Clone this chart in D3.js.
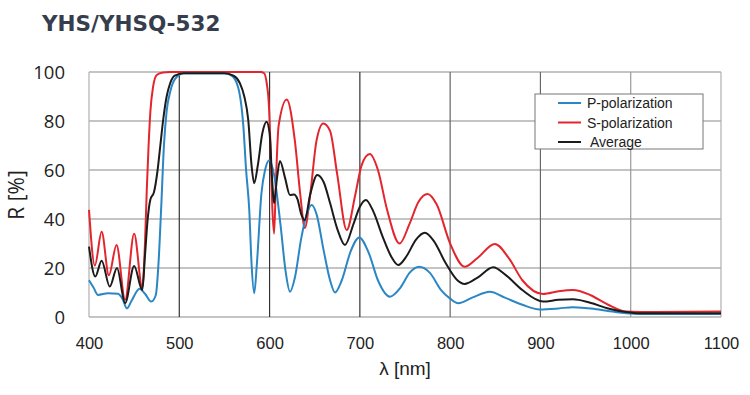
<!DOCTYPE html>
<html>
<head>
  <meta charset="utf-8">
  <script src="https://cdn.jsdelivr.net/npm/d3@7"></script>
  <style>
    body { margin: 0; background: #fff; }
  </style>
</head>
<body>
  <div id="chart"></div>
  <script>
    // wavelength (nm) / reflectance (%)
    const pWl = [400, 405, 410, 421, 432, 437, 442, 447, 456, 462, 469, 474, 477, 480, 483, 486, 490, 495, 505, 550, 558, 565, 571, 574, 577.5, 580, 583, 586, 591, 595, 599.7, 605, 612, 618, 622.6, 628, 635, 642, 646.6, 652, 660, 667, 672.4, 680, 690, 699.3, 710, 720, 733.3, 745, 755, 765.8, 777.6, 790, 800, 809, 825, 844, 860, 880, 899.4, 920, 936, 960, 980, 995, 1010, 1100];
    const pR  = [15, 12, 9, 9.7, 9.5, 7.5, 3.5, 6.5, 11.5, 9.5, 6.3, 9, 22, 45, 70, 84, 92, 97, 99.5, 99.5, 98.5, 94, 77.7, 60, 43.7, 22, 9.7, 22, 50.5, 60, 64, 58, 38, 18, 10.3, 16, 32, 43, 45.7, 42, 27, 15, 10, 15, 27, 32.5, 26, 15, 8.3, 12, 18, 20.5, 18, 11, 7.5, 5.6, 8, 10.3, 8, 5, 3.1, 3.5, 4, 3.3, 2.2, 1.5, 1.2, 1.2];

    const sWl = [400, 406.5, 414, 422, 430.5, 440, 450, 459, 462, 464, 466, 468, 471, 475, 482, 490, 590, 594, 597, 599, 601, 603, 605, 607, 610, 619, 628, 634, 639, 645, 652, 659.5, 667, 675, 685.4, 695, 702, 711, 720, 730, 744, 755, 765, 775, 785, 800, 816, 830, 849.5, 865, 880, 903, 920, 936, 955, 975, 995, 1010, 1100];
    const sR  = [43.7, 21, 34.8, 17, 29.4, 7, 34, 12, 30, 52, 70, 84, 94, 98.8, 99.8, 100, 100, 99.5, 95, 88, 70, 45, 34, 55, 78, 88.8, 72, 50, 36.3, 50, 72, 79, 76, 58, 35.5, 50, 62, 66.5, 60, 44, 30, 38, 47, 50.2, 46, 30, 20.5, 24, 29.8, 24, 15, 9.4, 10.5, 11, 9, 5, 2.2, 2, 2.2];

    const aWl = [400, 407, 414, 423, 431, 440, 450, 459, 462, 465, 468, 472, 476, 479, 482, 486, 490, 495, 505, 550, 560, 567, 572, 576.4, 580, 583, 587, 592, 596.7, 600, 603, 605, 608, 611.5, 617, 622.6, 627, 631, 635, 639, 645, 652.8, 660, 667, 675, 683.5, 693, 700, 706.7, 715, 725, 735, 742.5, 752, 762, 772, 782, 795, 808, 816, 830, 847.7, 862, 880, 903, 920, 936, 955, 975, 995, 1010, 1100];
    const aR  = [28.7, 16.5, 23, 12.4, 20, 5.7, 20.8, 11, 25, 40, 48, 51, 60, 70, 80, 90, 95.5, 98.5, 99.5, 99.5, 98.5, 95.5, 90, 80.4, 62, 54.6, 62, 75, 79.7, 75, 55, 46.4, 56, 63.7, 57, 49.8, 50, 48, 42, 39.6, 50, 58, 55, 46.5, 36, 29.4, 38, 45, 47.8, 43, 33, 24.5, 21.2, 25, 31.5, 34.4, 31, 22, 15, 13.5, 16, 20.3, 17, 11, 6.3, 7, 7.2, 5.8, 3.5, 2, 1.5, 1.5];

    const xTicks = [400, 500, 600, 700, 800, 900, 1000, 1100];
    const yTicks = [0, 20, 40, 60, 80, 100];
    const seriesNames = ["P-polarization", "S-polarization", "Average"];
    const seriesColors = ["#2a86c4", "#e3262d", "#1b1b1b"];

    const W = 750, H = 395;
    const plotL = 89, plotR = 721, plotT = 72, plotB = 317;

    const svg = d3.select("#chart").append("svg")
      .attr("width", W)
      .attr("height", H);

    const x = d3.scaleLinear().domain([400, 1100]).range([plotL, plotR]);
    const y = d3.scaleLinear().domain([0, 100]).range([plotB, plotT]);

    // title
    svg.append("text")
      .attr("x", 42).attr("y", 31)
      .style("font-family", "DejaVu Sans")
      .style("font-weight", "bold")
      .style("font-size", "21.5px")
      .style("fill", "#363d4c")
      .text("YHS/YHSQ-532");

    // horizontal grid
    svg.append("g").selectAll("line")
      .data(yTicks)
      .enter().append("line")
      .attr("x1", plotL).attr("x2", plotR)
      .attr("y1", d => y(d)).attr("y2", d => y(d))
      .attr("stroke", "#b0b0b0").attr("stroke-width", 1.3);

    // vertical grid
    svg.append("g").selectAll("line")
      .data(xTicks)
      .enter().append("line")
      .attr("x1", d => x(d)).attr("x2", d => x(d))
      .attr("y1", plotT).attr("y2", plotB)
      .attr("stroke", d => (d == 400 || d == 1100) ? "#b0b0b0" : (d <= 700 ? "#333" : (d <= 900 ? "#666" : "#999")))
      .attr("stroke-width", 1.2);

    // axes (labels only)
    const xAxis = svg.append("g")
      .attr("transform", "translate(0," + (plotB + 17) + ")")
      .call(d3.axisBottom(x).tickValues(xTicks).tickSize(0).tickFormat(d3.format("d")));
    xAxis.select(".domain").remove();
    xAxis.selectAll("text")
      .style("font-family", "Liberation Sans")
      .style("font-size", "16.5px")
      .style("fill", "#222");

    const yAxis = svg.append("g")
      .attr("transform", "translate(" + (plotL - 21) + ",0)")
      .call(d3.axisLeft(y).tickValues(yTicks).tickSize(0));
    yAxis.select(".domain").remove();
    yAxis.selectAll("text")
      .attr("dy", "0.35em")
      .style("font-family", "Open Sans")
      .style("font-size", "18.5px")
      .style("fill", "#222");

    svg.append("text")
      .attr("transform", "translate(24,195) rotate(-90)")
      .attr("text-anchor", "middle")
      .style("font-family", "Open Sans")
      .style("font-size", "21px")
      .style("fill", "#222")
      .text("R [%]");

    svg.append("text")
      .attr("x", 405).attr("y", 375)
      .attr("text-anchor", "middle")
      .style("font-family", "Liberation Sans")
      .style("font-size", "19px")
      .style("fill", "#222")
      .text("λ [nm]");

    // curves
    const line = d3.line()
      .x(d => x(d[0]))
      .y(d => y(d[1]))
      .curve(d3.curveMonotoneX);

    const curves = [d3.zip(pWl, pR), d3.zip(sWl, sR), d3.zip(aWl, aR)];
    // red first, then blue, black on top
    [1, 0, 2].forEach(i => {
      svg.append("path")
        .attr("d", line(curves[i]))
        .attr("fill", "none")
        .attr("stroke", seriesColors[i])
        .attr("stroke-width", 2);
    });

    // legend
    const lg = svg.append("g");
    lg.append("rect")
      .attr("x", 535).attr("y", 94)
      .attr("width", 168).attr("height", 55)
      .attr("fill", "#fff")
      .attr("stroke", "#777");
    seriesNames.forEach((name, i) => {
      const ly = 103 + i * 19.5;
      lg.append("line")
        .attr("x1", 558).attr("x2", 581)
        .attr("y1", ly).attr("y2", ly)
        .attr("stroke", seriesColors[i]).attr("stroke-width", 2);
      lg.append("text")
        .attr("x", i == 2 ? 590 : 587).attr("y", ly + 5)
        .style("font-family", "Liberation Sans")
        .style("font-size", "14px")
        .style("fill", "#222")
        .text(name);
    });
  </script>
</body>
</html>
